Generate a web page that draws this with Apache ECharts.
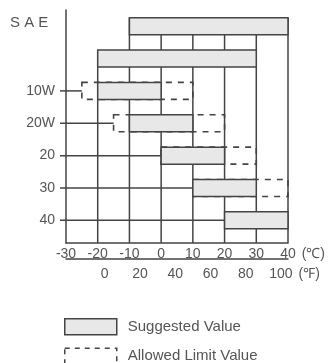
<!DOCTYPE html>
<html>
<head>
<meta charset="utf-8">
<script src="https://cdn.jsdelivr.net/npm/echarts@6/dist/echarts.min.js"></script>
<style>
  html, body { margin: 0; padding: 0; background: #fff; }
  #chart { width: 331px; height: 363px; }
</style>
</head>
<body>
<div id="chart"></div>
<script>
// SAE grades, top to bottom (the top two rows have no label in the source)
const grades = ['', '', '10W', '20W', '20', '30', '40']
// suggested temperature range (degC)
const suggestedLow = [-10, -20, -20, -10, 0, 10, 20]
const suggestedHigh = [40, 30, 0, 10, 20, 30, 40]
// allowed limit range (degC), null = same as suggested
const allowedLow = [null, null, -25, -15, null, null, null]
const allowedHigh = [null, null, 10, 20, 30, 40, null]
// tick labels
const celsiusTicks = [-30, -20, -10, 0, 10, 20, 30, 40]
const fahrenheitTicks = [0, 20, 40, 60, 80, 100]

const toF = c => c * 9 / 5 + 32
const Y_MIN = -0.5
const Y_MAX = 6.7
const BAR_H = 17
const LINE = '#444'
const TEXT = '#555'
const FILL = '#e8e8e8'
const FONT = 'Liberation Sans, Arial, sans-serif'

const chart = echarts.init(document.getElementById('chart'))

const rows = grades.map((g, i) => [
  i,
  suggestedLow[i],
  suggestedHigh[i],
  allowedLow[i] === null ? suggestedLow[i] : allowedLow[i],
  allowedHigh[i] === null ? suggestedHigh[i] : allowedHigh[i],
  g
])
const allowedRows = rows.filter((r, i) => allowedLow[i] !== null || allowedHigh[i] !== null)
const labelRows = rows.filter(r => r[5] !== '')
// vertical grid lines: from the bottom up to the top of the first bar crossing them
const gridLines = celsiusTicks.filter(v => v > celsiusTicks[0]).map(v => [
  v,
  grades.findIndex((g, i) => suggestedLow[i] <= v && v <= suggestedHigh[i])
])

function rectOf (api, lo, hi, row) {
  const a = api.coord([lo, row])
  const b = api.coord([hi, row])
  return { x: a[0], y: a[1] - BAR_H / 2, width: b[0] - a[0], height: BAR_H }
}

const option = {
  animation: false,
  textStyle: { fontFamily: FONT },
  title: {
    text: 'S A E',
    left: 10,
    top: 15,
    padding: 0,
    textStyle: { color: TEXT, fontSize: 15, fontWeight: 'normal', fontFamily: FONT }
  },
  legend: {
    orient: 'vertical',
    left: 64,
    top: 318,
    height: 80,
    padding: 0,
    itemGap: 12,
    itemWidth: 52,
    itemHeight: 16,
    icon: 'rect',
    textStyle: { color: TEXT, fontSize: 15, padding: [0, 0, 0, 6] },
    data: [
      { name: 'Suggested Value', itemStyle: { color: FILL, borderColor: LINE, borderWidth: 1.5 } },
      { name: 'Allowed Limit Value', itemStyle: { color: '#fff', borderColor: LINE, borderWidth: 1.5, borderType: [5, 5] } }
    ]
  },
  grid: { left: 66, right: 43, top: 10, bottom: 120 },
  xAxis: [
    {
      type: 'value',
      min: -30,
      max: 40,
      interval: 10,
      position: 'bottom',
      axisLine: { onZero: false, lineStyle: { color: LINE, width: 1.5 } },
      axisTick: { show: false },
      splitLine: { show: false },
      axisLabel: { color: TEXT, fontSize: 14, margin: 4 },
      name: '(℃)',
      nameLocation: 'end',
      nameGap: 8,
      nameTextStyle: { color: TEXT, fontSize: 14, verticalAlign: 'top', padding: [4, 0, 0, 0] }
    },
    {
      type: 'value',
      min: toF(-30),
      max: toF(40),
      position: 'bottom',
      offset: 16,
      axisLine: { onZero: false, lineStyle: { color: LINE, width: 1.5 } },
      axisTick: { show: false },
      splitLine: { show: false },
      axisLabel: { color: TEXT, fontSize: 14, margin: 8, customValues: fahrenheitTicks },
      name: '(℉)',
      nameLocation: 'end',
      nameGap: 6,
      nameTextStyle: { color: TEXT, fontSize: 14, verticalAlign: 'top', padding: [8, 0, 0, 0] }
    }
  ],
  yAxis: {
    type: 'value',
    inverse: true,
    min: Y_MIN,
    max: Y_MAX,
    axisLine: { onZero: false, lineStyle: { color: LINE, width: 1.5 } },
    axisTick: { show: false },
    axisLabel: { show: false },
    splitLine: { show: false }
  },
  series: [
    {
      // vertical grid
      type: 'custom',
      z: 1,
      silent: true,
      encode: { x: 0, y: 1 },
      data: gridLines,
      renderItem (params, api) {
        const top = api.coord([api.value(0), api.value(1)])
        const bottom = api.coord([api.value(0), Y_MAX])
        return {
          type: 'line',
          shape: { x1: top[0], y1: top[1] - BAR_H / 2, x2: bottom[0], y2: bottom[1] },
          style: { stroke: LINE, lineWidth: 1.5 }
        }
      }
    },
    {
      // row lines + SAE grade labels
      type: 'custom',
      z: 1,
      silent: true,
      encode: { x: [1, 3], y: 0 },
      data: labelRows,
      renderItem (params, api) {
        const row = api.value(0)
        const start = api.coord([celsiusTicks[0], row])
        const end = api.coord([Math.min(api.value(1), api.value(3)), row])
        return {
          type: 'group',
          children: [
            {
              type: 'line',
              shape: { x1: start[0] - 6, y1: start[1], x2: end[0], y2: end[1] },
              style: { stroke: LINE, lineWidth: 1.5 }
            },
            {
              type: 'text',
              style: {
                text: labelRows[params.dataIndex][5],
                x: start[0] - 11,
                y: start[1],
                align: 'right',
                verticalAlign: 'middle',
                fill: TEXT,
                font: '14px ' + FONT
              }
            }
          ]
        }
      }
    },
    {
      name: 'Allowed Limit Value',
      type: 'custom',
      z: 2,
      encode: { x: [3, 4], y: 0 },
      data: allowedRows,
      renderItem (params, api) {
        return {
          type: 'rect',
          shape: rectOf(api, api.value(3), api.value(4), api.value(0)),
          style: { fill: 'none', stroke: LINE, lineWidth: 1.6, lineDash: [6, 6] }
        }
      }
    },
    {
      name: 'Suggested Value',
      type: 'custom',
      z: 3,
      encode: { x: [1, 2], y: 0 },
      data: rows,
      renderItem (params, api) {
        return {
          type: 'rect',
          shape: rectOf(api, api.value(1), api.value(2), api.value(0)),
          style: { fill: FILL, stroke: LINE, lineWidth: 1.5 }
        }
      }
    }
  ]
}

chart.setOption(option)
</script>
</body>
</html>
